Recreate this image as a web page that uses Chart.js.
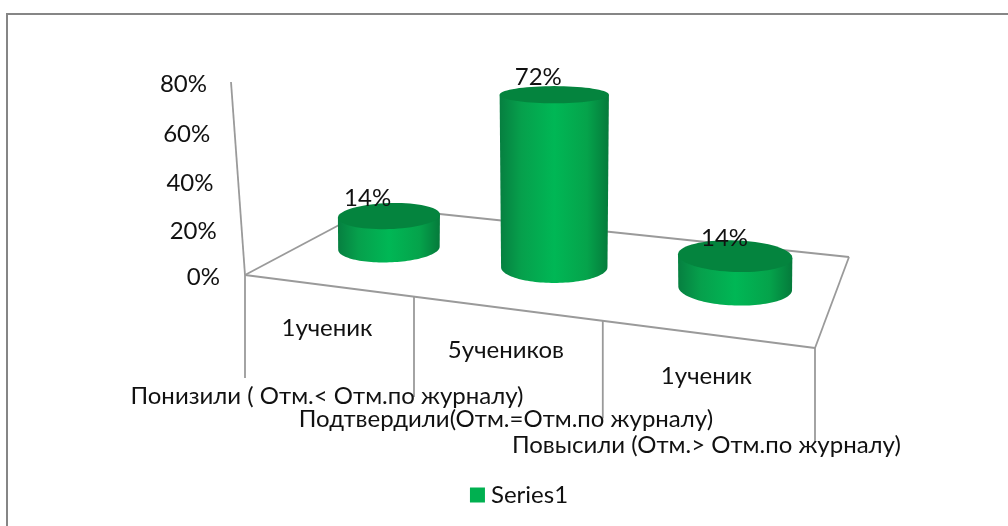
<!DOCTYPE html>
<html><head><meta charset="utf-8">
<style>html,body{margin:0;padding:0;background:#fff}#w{width:1008px;height:526px}</style>
<script src="https://cdn.jsdelivr.net/npm/chart.js@4"></script>
</head><body><div id="w"><canvas id="c"></canvas></div>
<script>
const categories = ['Понизили ( Отм.< Отм.по журналу)', 'Подтвердили(Отм.=Отм.по журналу)', 'Повысили (Отм.> Отм.по журналу)'];
const counts = ['1ученик', '5учеников', '1ученик'];
const seriesName = 'Series1';
const values = [14, 72, 14];
const yTicks = [0, 20, 40, 60, 80];

const FONT = '24px Lato, "Open Sans", sans-serif';
const GREY = '#9a9a9a';
// perspective floor corners: front-left, front-right, back-right, back-left
const Q = [[245,275],[815,348],[849,257],[373,207]];
const dx1=Q[1][0]-Q[2][0], dx2=Q[3][0]-Q[2][0], sx=Q[0][0]-Q[1][0]+Q[2][0]-Q[3][0];
const dy1=Q[1][1]-Q[2][1], dy2=Q[3][1]-Q[2][1], sy=Q[0][1]-Q[1][1]+Q[2][1]-Q[3][1];
const den=dx1*dy2-dx2*dy1, G=(sx*dy2-dx2*sy)/den, H=(dx1*sy-sx*dy1)/den;
function proj(s,t){
  const w=G*s+H*t+1;
  return [((Q[1][0]-Q[0][0]+G*Q[1][0])*s+(Q[3][0]-Q[0][0]+H*Q[3][0])*t+Q[0][0])/w,
          ((Q[1][1]-Q[0][1]+G*Q[1][1])*s+(Q[3][1]-Q[0][1]+H*Q[3][1])*t+Q[0][1])/w];
}
const lift = t => 0.9384*t/(1-0.0614*t);
const front = u => { const s=u/3; return proj(s-0.0055*Math.sin(Math.PI*s),0); };

function line(ctx,a,b){ctx.beginPath();ctx.moveTo(a[0],a[1]);ctx.lineTo(b[0],b[1]);ctx.stroke();}

const cylinder3D = {
  id:'cylinder3D',
  beforeDatasetsDraw(chart){
    const ctx=chart.ctx; ctx.save();
    ctx.strokeStyle=GREY; ctx.lineWidth=1.8;
    for(let i=0;i<4;i++) line(ctx,Q[i],Q[(i+1)%4]);
    line(ctx,Q[0],[231,82]);
    for(let i=0;i<=3;i++){
      const p=front(i);
      line(ctx,p,[p[0],p[1]+103-8*i/3]);
    }
    ctx.restore();
  },
  beforeDatasetDraw(chart){
    const ctx=chart.ctx, xs=chart.scales.x, ys=chart.scales.y;
    chart.getDatasetMeta(0).data.forEach(el=>{
      const s0=(el.x-xs.left)/xs.width, t0=0.48;
      const c=proj(s0,t0); c[0]-=1;
      const tv=(el.base-el.y)/ys.height, h=lift(tv)*ys.height;
      let maxDx=0,maxDy=0;
      for(let k=0;k<72;k++){
        const a=k/72*Math.PI*2, p=proj(s0+0.1*Math.cos(a),t0+0.177*Math.sin(a));
        maxDx=Math.max(maxDx,Math.abs(p[0]-c[0]-1));
        maxDy=Math.max(maxDy,Math.abs(p[1]-c[1]));
      }
      const tilt=(s0-0.5)*0.1, rxB=maxDx*0.98, ryB=maxDy;
      const ring=(cy,rx,ry,a)=>[c[0]+rx*Math.cos(a)*Math.cos(tilt)-ry*Math.sin(a)*Math.sin(tilt),
                               cy+rx*Math.cos(a)*Math.sin(tilt)+ry*Math.sin(a)*Math.cos(tilt)];
      const rxT=rxB*(1+0.03*tv), ryT=ryB*(1-0.5*tv), cyT=c[1]-h;
      const g=ctx.createLinearGradient(c[0]-rxT,0,c[0]+rxT,0);
      g.addColorStop(0,'#067f40');g.addColorStop(0.2,'#06a04c');g.addColorStop(0.5,'#00b755');
      g.addColorStop(0.8,'#05a34b');g.addColorStop(1,'#057a3b');
      ctx.save();
      ctx.beginPath();
      let p=ring(cyT,rxT,ryT,Math.PI);ctx.moveTo(p[0],p[1]);
      for(let k=0;k<=60;k++){p=ring(c[1],rxB,ryB,Math.PI-k/60*Math.PI);ctx.lineTo(p[0],p[1]);}
      p=ring(cyT,rxT,ryT,0);ctx.lineTo(p[0],p[1]);
      ctx.closePath();ctx.fillStyle=g;ctx.fill();
      ctx.beginPath();
      for(let k=0;k<72;k++){p=ring(cyT,rxT,ryT,k/72*Math.PI*2);k?ctx.lineTo(p[0],p[1]):ctx.moveTo(p[0],p[1]);}
      ctx.closePath();ctx.fillStyle='#04843e';ctx.fill();
      ctx.restore();
    });
    return false;
  },
  afterDraw(chart){
    const ctx=chart.ctx, xs=chart.scales.x, ys=chart.scales.y;
    ctx.save();
    ctx.strokeStyle='#868686';ctx.lineWidth=2;
    ctx.beginPath();ctx.moveTo(7,526);ctx.lineTo(7,14);ctx.lineTo(1008,14);ctx.stroke();
    ctx.fillStyle='#111';ctx.font=FONT;ctx.textBaseline='middle';
    ys.ticks.forEach((tk,i)=>{
      const t=(ys.bottom-ys.getPixelForTick(i))/ys.height;
      ctx.textAlign='right';
      ctx.fillText(tk.label,220-13*t,ys.bottom-lift(t)*ys.height);
    });
    ctx.textAlign='center';
    categories.forEach((lab,i)=>{
      const a=front(i),b=front(i+1),mx=(a[0]+b[0])/2-2.5,my=(a[1]+b[1])/2;
      ctx.fillText(counts[i],mx,my+42);
      ctx.fillText(lab,mx,my+110.5);
    });
    chart.getDatasetMeta(0).data.forEach((el,i)=>{
      const s0=(el.x-xs.left)/xs.width, c=proj(s0,0.48);
      const tv=(el.base-el.y)/ys.height, h=lift(tv)*ys.height;
      ctx.fillText(values[i]+'%',c[0]-25+16*s0,c[1]-h-17.5);
    });
    ctx.restore();
  }
};

new Chart(document.getElementById('c'),{
  type:'bar',
  data:{labels:categories,datasets:[{label:seriesName,data:values,backgroundColor:'#00b050'}]},
  plugins:[cylinder3D],
  options:{
    responsive:true,maintainAspectRatio:false,animation:false,
    layout:{padding:{left:36,right:0,top:84,bottom:9}},
    plugins:{
      legend:{position:'bottom',labels:{usePointStyle:true,pointStyle:'rect',boxWidth:3,boxHeight:15,padding:10,color:'#111',font:{family:'Lato, "Open Sans", sans-serif',size:24}}},
      tooltip:{enabled:false}
    },
    scales:{
      x:{grid:{display:false},border:{display:false},ticks:{display:false},afterFit(s){s.height=196;}},
      y:{min:0,max:80,afterBuildTicks(s){s.ticks=yTicks.map(v=>({value:v}));},
         ticks:{display:false,callback:v=>v+'%'},grid:{display:false},border:{display:false},afterFit(s){s.width=209;}},
      y2:{position:'right',min:0,max:80,grid:{display:false},border:{display:false},ticks:{display:false},afterFit(s){s.width=193;}}
    }
  }
});
</script></body></html>
